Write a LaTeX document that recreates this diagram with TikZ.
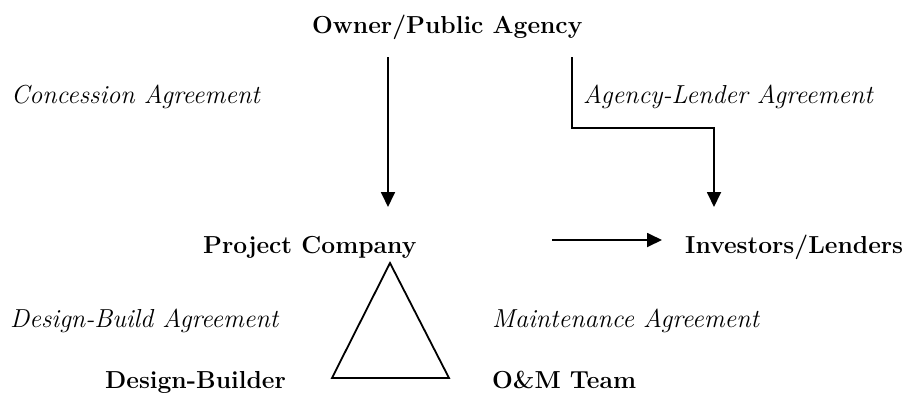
\documentclass[tikz,border=0pt]{standalone}
\usepackage{fontspec}
\usetikzlibrary{arrows.meta}
\begin{document}
\begin{tikzpicture}[x=1pt,y=-1pt,
    party/.style={font=\fontsize{24.6}{28}\selectfont\bfseries, inner sep=0pt},
    deal/.style={font=\fontsize{26}{30}\selectfont\itshape, inner sep=0pt},
    link/.style={line width=1.8pt},
    flow/.style={link, -{Triangle[length=15pt,width=14pt]}}]
  \useasboundingbox (0,0) rectangle (911,392);

  % parties
  \node[party, anchor=base west] (owner)     at (312,33)  {Owner/Public Agency};
  \node[party, anchor=base west] (company)   at (203,253) {Project Company};
  \node[party, anchor=base west] (investors) at (685,253) {Investors/Lenders};
  \node[party, anchor=base west] (builder)   at (105,388) {Design-Builder};
  \node[party, anchor=base west] (om)        at (492,388) {O\&M Team};

  % agreements
  \node[deal, anchor=base west] (concession) at (11,103)  {Concession Agreement};
  \node[deal, anchor=base west] (agency)     at (583,103) {Agency-Lender Agreement};
  \node[deal, anchor=base west] (dbagree)    at (10,327)  {Design-Build Agreement};
  \node[deal, anchor=base west] (maint)      at (492,327) {Maintenance Agreement};

  % connector end points
  \coordinate (ownerL)   at (388,57);
  \coordinate (companyT) at (388,207);
  \coordinate (ownerR)   at (572,57);
  \coordinate (bend1)    at (572,128);
  \coordinate (bend2)    at (714,128);
  \coordinate (investT)  at (714,207);
  \coordinate (companyR) at (552,240);
  \coordinate (investL)  at (662,240);
  \coordinate (apex)     at (390,263);
  \coordinate (baseL)    at (332,378);
  \coordinate (baseR)    at (449,378);

  % connectors
  \draw[flow] (ownerL) -- (companyT);
  \draw[flow] (ownerR) -- (bend1) -- (bend2) -- (investT);
  \draw[flow] (companyR) -- (investL);
  \draw[link, line join=miter] (apex) -- (baseL) -- (baseR) -- cycle;
\end{tikzpicture}
\end{document}
